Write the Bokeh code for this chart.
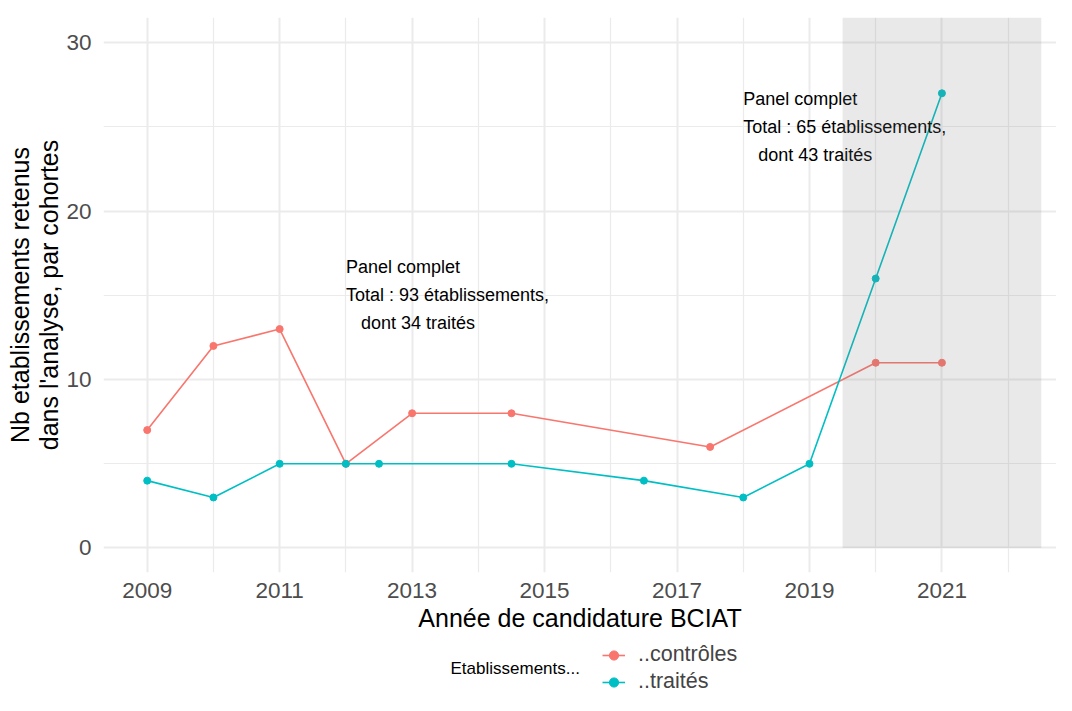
from bokeh.plotting import figure
from bokeh.layouts import column
from bokeh.models import Range1d, FixedTicker, BoxAnnotation, Legend, LegendItem, Label, ColumnDataSource
from bokeh.core.properties import value
from bokeh.embed import file_html
from bokeh.resources import INLINE

# ---------------- data ----------------
annees_controles = [2009, 2010, 2011, 2012, 2013, 2014.5, 2017.5, 2020, 2021]
n_controles = [7, 12, 13, 5, 8, 8, 6, 11, 11]

annees_traites = [2009, 2010, 2011, 2012, 2012.5, 2014.5, 2016.5, 2018, 2019, 2020, 2021]
n_traites = [4, 3, 5, 5, 5, 5, 4, 3, 5, 16, 27]

series_labels = ["..contrôles", "..traités"]
legend_title = "Etablissements..."

annot_x = [2012, 2018]
annot_y = [15, 25]
annot_text = [
    "Panel complet\nTotal : 93 établissements,\n\u00a0\u00a0\u00a0dont 34 traités",
    "Panel complet\nTotal : 65 établissements,\n\u00a0\u00a0\u00a0dont 43 traités",
]

x_ticks = [2009, 2011, 2013, 2015, 2017, 2019, 2021]
x_minor = [2010, 2012, 2014, 2016, 2018, 2020, 2022]
y_ticks = [0, 10, 20, 30]
y_minor = [5, 15, 25]

shade_left, shade_right, shade_bottom = 2019.5, 2022.5, 0

x_title = "Année de candidature BCIAT"
y_title = "Nb etablissements retenus\ndans l'analyse, par cohortes"

# ---------------- style ----------------
FONT = "Liberation Sans"
COL_C = "#F8766D"
COL_T = "#00BFC4"
GRID = "#EBEBEB"

p = figure(width=1056, height=635, output_backend="svg", toolbar_location=None,
           x_range=Range1d(2008.34, 2022.73), y_range=Range1d(-1.455, 31.50),
           min_border_left=103, min_border_right=0, min_border_top=17, min_border_bottom=63)
p.outline_line_color = None
p.background_fill_color = "white"
p.border_fill_color = "white"

p.xaxis.ticker = FixedTicker(ticks=x_ticks, minor_ticks=x_minor)
p.yaxis.ticker = FixedTicker(ticks=y_ticks, minor_ticks=y_minor)

for g in (p.xgrid[0], p.ygrid[0]):
    g.grid_line_color = GRID
    g.grid_line_width = 2
    g.minor_grid_line_color = GRID
    g.minor_grid_line_width = 1.2

for ax in (p.xaxis[0], p.yaxis[0]):
    ax.axis_line_color = None
    ax.major_tick_line_color = None
    ax.minor_tick_line_color = None
    ax.major_tick_out = 0
    ax.major_tick_in = 0
    ax.major_label_text_font = FONT
    ax.major_label_text_font_size = "22.5px"
    ax.major_label_text_color = "#4D4D4D"
    ax.axis_label_text_font = FONT
    ax.axis_label_text_font_size = "25px"
    ax.axis_label_text_font_style = "normal"
    ax.axis_label_text_color = "black"

p.xaxis.axis_label = x_title
p.yaxis.axis_label = y_title
p.xaxis.major_label_standoff = 6
p.xaxis.axis_label_standoff = 3
p.yaxis.major_label_standoff = 8
p.yaxis.axis_label_standoff = 0
p.yaxis.axis_label_text_line_height = 1.05

src_c = ColumnDataSource(dict(x=annees_controles, y=n_controles))
src_t = ColumnDataSource(dict(x=annees_traites, y=n_traites))

p.line("x", "y", source=src_c, line_color=COL_C, line_width=1.6)
p.line("x", "y", source=src_t, line_color=COL_T, line_width=1.6)
p.scatter("x", "y", source=src_c, size=7, fill_color=COL_C, line_color=COL_C)
p.scatter("x", "y", source=src_t, size=7, fill_color=COL_T, line_color=COL_T)

p.text(x=annot_x, y=annot_y, text=annot_text, text_font=value(FONT), text_font_size="18px",
       text_align="left", text_baseline="middle", text_line_height=1.4, text_color="black")

shade = BoxAnnotation(left=shade_left, right=shade_right, bottom=shade_bottom,
                      fill_color="#7F7F7F", fill_alpha=0.17, line_color=None)
p.add_layout(shade)

# ---------------- legend strip ----------------
q = figure(width=1056, height=60, output_backend="svg", toolbar_location=None,
           x_range=Range1d(0, 1), y_range=Range1d(0, 1), x_axis_type=None, y_axis_type=None,
           min_border_left=0, min_border_right=0, min_border_top=0, min_border_bottom=0)
q.outline_line_color = None
q.xgrid.visible = False
q.ygrid.visible = False
q.border_fill_color = "white"

nan = float("nan")
def proxy():
    return ColumnDataSource(dict(x=[nan], y=[nan]))

qlc = q.line("x", "y", source=proxy(), line_color=COL_C, line_width=1.6)
qpc = q.scatter("x", "y", source=proxy(), size=7, fill_color=COL_C, line_color=COL_C)
qlt = q.line("x", "y", source=proxy(), line_color=COL_T, line_width=1.6)
qpt = q.scatter("x", "y", source=proxy(), size=7, fill_color=COL_T, line_color=COL_T)

legend = Legend(items=[LegendItem(label=series_labels[0], renderers=[qlc, qpc]),
                       LegendItem(label=series_labels[1], renderers=[qlt, qpt])],
                location=(499, 1), orientation="vertical",
                background_fill_alpha=0, border_line_color=None,
                label_text_font=FONT, label_text_font_size="21.5px",
                glyph_width=23, glyph_height=24, label_height=24, spacing=2,
                padding=0, margin=0, label_standoff=13)
q.add_layout(legend, "center")

q.add_layout(Label(x=347, y=27, x_units="screen", y_units="screen", text=legend_title,
                   text_font=FONT, text_font_size="17px", text_baseline="middle",
                   text_align="left", text_color="black"))

layout = column(p, q, spacing=0)
open("out.html", "w").write(file_html(layout, INLINE))
